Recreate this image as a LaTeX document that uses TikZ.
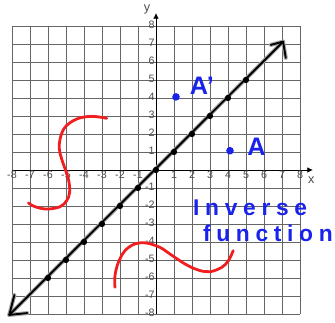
\documentclass[tikz,border=0pt]{standalone}
\usepackage{fontspec}
\setmainfont{Liberation Sans}
\usetikzlibrary{arrows.meta}
\definecolor{penred}{RGB}{240,30,30}
\definecolor{penblue}{RGB}{25,35,235}
\begin{document}
\begin{tikzpicture}[x=0.5cm,y=0.5cm,
 gridline/.style={draw=black!60, line width=0.55pt},
 axisline/.style={draw=black, line width=0.7pt, -{Latex[length=4.5pt,width=4.5pt]}},
 ticklab/.style={font=\fontsize{8.5}{9}\selectfont, text=black!70, inner sep=0pt},
 axislab/.style={font=\fontsize{10}{11}\selectfont, text=black!70, inner sep=0pt},
 halo/.style={draw=black!35, line width=3.2pt, line cap=round},
 diagline/.style={draw=black, line width=1.5pt, line cap=round, line join=round},
 onedot/.style={circle, fill=black, inner sep=0pt, minimum size=5pt},
 redpen/.style={draw=penred, line width=2.2pt, line cap=round, line join=round},
 bluedot/.style={circle, fill=penblue, inner sep=0pt, minimum size=6pt},
 handtext/.style={text=penblue, font=\fontsize{20}{22}\selectfont\bfseries, inner sep=0pt},
 handword/.style={text=penblue, font=\fontsize{18}{20}\selectfont\bfseries\addfontfeature{LetterSpace=25}, inner sep=0pt, anchor=base west}]
\useasboundingbox (-8.667,-8.5) rectangle (9.944,9.444);
% grid
\foreach \k in {-8,...,8} {
  \draw[gridline] (\k,-8) -- (\k,8);
  \draw[gridline] (-8,\k) -- (8,\k);
}
% axes
\coordinate (xs) at (-8,0); \coordinate (xe) at (8.72,0);
\coordinate (ys) at (0,-8); \coordinate (ye) at (0,8.72);
\draw[axisline] (xs) -- (xe);
\draw[axisline] (ys) -- (ye);
\node[axislab] (xname) at (8.63,-0.56) {x};
\node[axislab] (yname) at (-0.5,8.94) {y};
% tick labels
\foreach \k [count=\i] in {-8,...,-1,1,2,...,8} {
  \node[ticklab] (xt\i) at (\k,-0.28) {\k};
  \node[ticklab, anchor=east] (yt\i) at (-0.06,\k+0.08) {\k};
}
% diagonal line y = x
\coordinate (lo) at (-8.15,-8.05);
\coordinate (hi) at (7.06,7.13);
\draw[halo] (lo) -- (hi);
\draw[halo] (lo) -- ++(0.28,1.1);
\draw[halo] (lo) -- ++(1.0,0.1);
\draw[halo] (hi) -- ++(-0.68,-0.18);
\draw[halo] (hi) -- ++(0.15,-0.9);
\draw[diagline] (lo) -- (hi);
\draw[diagline] (lo) -- ++(0.28,1.1);
\draw[diagline] (lo) -- ++(1.0,0.1);
\draw[diagline] (hi) -- ++(-0.68,-0.18);
\draw[diagline] (hi) -- ++(0.15,-0.9);
\foreach \k [count=\i] in {-6,...,5} {
  \node[onedot] (d\i) at (\k,\k) {};
}
% red curves
\draw[redpen] plot[smooth, tension=0.6] coordinates {(-2.74,2.87) (-3.57,2.98) (-4.41,2.83) (-5.06,2.37) (-5.33,1.72) (-5.37,1.17) (-5.24,0.61) (-4.87,-0.5) (-4.8,-1.24) (-4.96,-1.7) (-5.33,-2.04) (-6.07,-2.17) (-6.72,-2.04) (-7.09,-1.83)};
\draw[redpen] plot[smooth, tension=0.6] coordinates {(-2.28,-6.52) (-2.28,-5.87) (-2.09,-5.13) (-1.72,-4.48) (-1.17,-4.11) (-0.52,-4.06) (0.22,-4.3) (0.78,-4.67) (1.61,-5.22) (2.35,-5.56) (3.0,-5.65) (3.65,-5.41) (4.02,-5.04) (4.29,-4.48)};
% blue points and labels
\node[bluedot] (Ap) at (1.11,4.06) {};
\node[handtext] (Aplab) at (2.55,4.7) {A'};
\node[bluedot] (Ad) at (4.11,1.07) {};
\node[handtext] (Alab) at (5.59,1.31) {A};
\node[handword] (w1) at (2.05,-2.55) {Inverse};
\node[handword] (w2) at (2.6,-4.0) {function};
\end{tikzpicture}
\end{document}
